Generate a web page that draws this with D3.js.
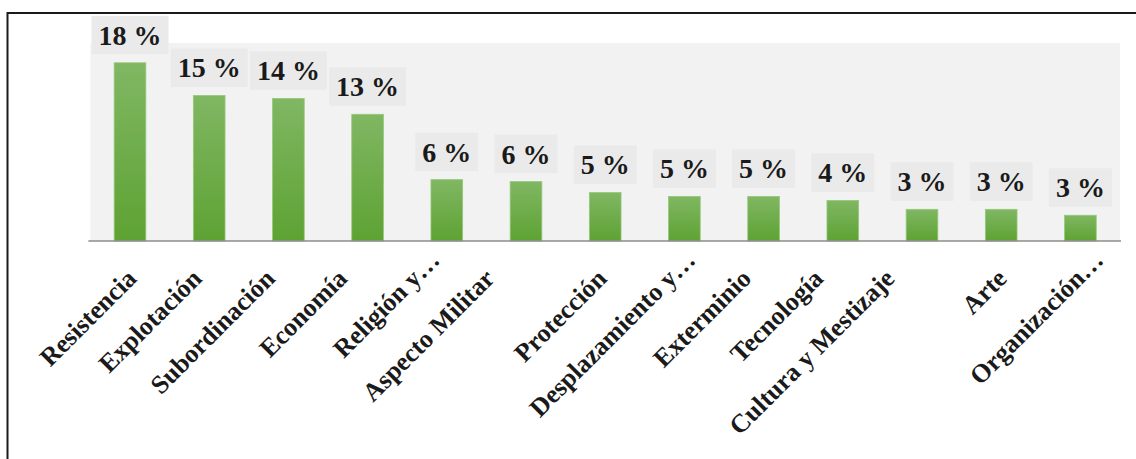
<!DOCTYPE html>
<html>
<head>
<meta charset="utf-8">
<script src="https://cdn.jsdelivr.net/npm/d3@7"></script>
<style>
  html, body { margin: 0; padding: 0; background: #ffffff; }
  svg { display: block; }
</style>
</head>
<body>
<svg id="chart" width="1136" height="459"></svg>
<script>
// ---- data ----
const categories = ["Resistencia", "Explotación", "Subordinación", "Economía", "Religión y…",
  "Aspecto Militar", "Protección", "Desplazamiento y…", "Exterminio", "Tecnología",
  "Cultura y Mestizaje", "Arte", "Organización…"];
const values = [18.0, 14.7, 14.4, 12.8, 6.2, 6.0, 4.9, 4.5, 4.5, 4.1, 3.2, 3.2, 2.6];
const valueLabels = ["18 %", "15 %", "14 %", "13 %", "6 %", "6 %", "5 %", "5 %", "5 %", "4 %", "3 %", "3 %", "3 %"];
const yDomain = [0, 20];
// horizontal nudge of each category label (layout, px)
const labelNudge = [8, -6, -12, -19, -24, -30, 3, -6, -11, -18, -26, 7, 6];

// ---- layout ----
const svg = d3.select("#chart");
const plot = { left: 90.4, right: 1120, top: 43, bottom: 241 };

const x = d3.scaleBand().domain(categories).range([plot.left, plot.right])
  .paddingInner(0.6).paddingOuter(0.3);
const y = d3.scaleLinear().domain(yDomain).range([plot.bottom, plot.top]);

// gradient
const defs = svg.append("defs");
const grad = defs.append("linearGradient").attr("id", "barGrad")
  .attr("x1", 0).attr("y1", 0).attr("x2", 0).attr("y2", 1);
grad.append("stop").attr("offset", "0%").attr("stop-color", "#80b763");
grad.append("stop").attr("offset", "100%").attr("stop-color", "#5ea233");

// frame
svg.append("line").attr("x1", 7).attr("x2", 1136).attr("y1", 13).attr("y2", 13)
  .attr("stroke", "#1a1a1a").attr("stroke-width", 2);
svg.append("line").attr("x1", 7.5).attr("x2", 7.5).attr("y1", 12).attr("y2", 459)
  .attr("stroke", "#1a1a1a").attr("stroke-width", 2);

// plot background
svg.append("rect").attr("x", plot.left).attr("y", plot.top)
  .attr("width", plot.right - plot.left).attr("height", plot.bottom - plot.top)
  .attr("fill", "#f2f2f2");

// bars
svg.append("g").selectAll("rect").data(values).join("rect")
  .attr("x", (d, i) => x(categories[i]))
  .attr("y", d => y(d))
  .attr("width", x.bandwidth())
  .attr("height", d => y(0) - y(d))
  .attr("fill", "url(#barGrad)")
  .attr("stroke", "#96c87a").attr("stroke-width", 0.8);

// axis line (x axis without ticks)
const xAxis = d3.axisBottom(x).tickSize(0).tickFormat("");
const axG = svg.append("g").attr("transform", `translate(0,${plot.bottom})`).call(xAxis);
axG.select(".domain").attr("stroke", "#8c8c8c").attr("stroke-width", 1.6)
  .attr("d", `M${plot.left - 2},0H${plot.right + 1}`);

// value labels with boxes
const vg = svg.append("g");
values.forEach((v, i) => {
  const cx = x(categories[i]) + x.bandwidth() / 2;
  const base = y(v) - 18;
  const g = vg.append("g");
  const t = g.append("text")
    .attr("x", cx).attr("y", base)
    .attr("text-anchor", "middle")
    .attr("font-family", "'Liberation Serif', 'Times New Roman', serif")
    .attr("font-weight", "bold").attr("font-size", 28)
    .attr("fill", "#1a1a1a")
    .text(valueLabels[i]);
  const w = t.node().getComputedTextLength();
  g.insert("rect", "text")
    .attr("x", cx - w / 2 - 7).attr("y", base - 29)
    .attr("width", w + 14).attr("height", 38.5)
    .attr("fill", "#eaeaea");
});

// category labels, rotated -45
const cg = svg.append("g");
categories.forEach((c, i) => {
  const cx = x(c) + x.bandwidth() / 2 + labelNudge[i];
  const cy = 280;
  const hasEll = c.endsWith("…");
  const main = hasEll ? c.slice(0, -1) : c;
  const g = cg.append("g").attr("transform", `translate(${cx},${cy}) rotate(-45)`);
  const common = t => t.attr("font-family", "'Liberation Serif', 'Times New Roman', serif")
    .attr("font-weight", "bold").attr("font-size", 26).attr("fill", "#1a1a1a");
  common(g.append("text").attr("x", 0).attr("y", 0).attr("text-anchor", "end").text(main));
  if (hasEll) {
    common(g.append("text").attr("x", 0).attr("y", 0).attr("text-anchor", "start").text("…"));
  }
});
</script>
</body>
</html>
